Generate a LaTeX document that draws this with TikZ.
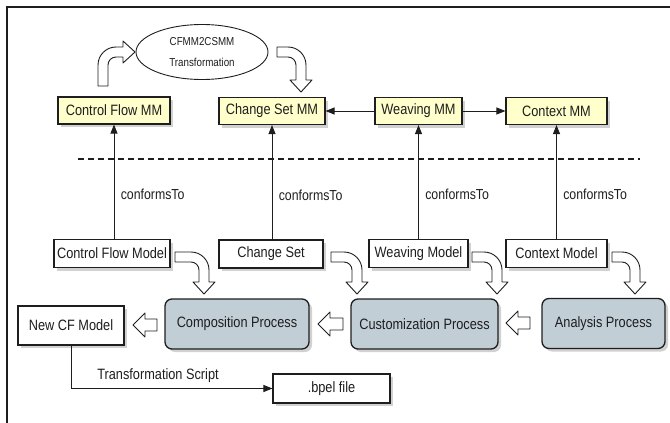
\documentclass[tikz,border=0pt]{standalone}
\usepackage{fontspec}
\setmainfont[FakeStretch=0.85]{Liberation Sans}
\usetikzlibrary{arrows.meta,shapes.geometric,shadows,calc}
\definecolor{mmyellow}{RGB}{255,255,204}
\definecolor{procfill}{RGB}{194,206,214}
\definecolor{ink}{RGB}{30,30,30}

% hollow bent arrow: right, then down (band 10pt, outer radius 18pt, inner radius 8pt)
% #1 start x, #2 top edge y, #3 centre x of the down leg, #4 tip y
\newcommand\rdarrow[4]{%
  \draw[blk] (#1,-#2) -- ({#3+5-18},-#2) arc[start angle=90,end angle=0,radius=18]
    -- ({#3+5},{-(#4-12)}) -- ({#3+11},{-(#4-12)}) -- (#3,-#4)
    -- ({#3-11},{-(#4-12)}) -- ({#3-5},{-(#4-12)}) -- ({#3-5},{-(#2+18)})
    arc[start angle=0,end angle=90,radius=8] -- ({#3+5-18},{-(#2+10)}) -- (#1,{-(#2+10)}) -- cycle;}
% hollow bent arrow: up, then right
% #1 left edge x, #2 bottom y, #3 centre y of the right leg, #4 tip x
\newcommand\urarrow[4]{%
  \draw[blk] (#1,-#2) -- (#1,{-(#3-5+18)}) arc[start angle=180,end angle=90,radius=18]
    -- ({#4-12},{-(#3-5)}) -- ({#4-12},{-(#3-11)}) -- (#4,-#3)
    -- ({#4-12},{-(#3+11)}) -- ({#4-12},{-(#3+5)}) -- ({#1+18},{-(#3+5)})
    arc[start angle=90,end angle=180,radius=8] -- ({#1+10},-#2) -- cycle;}
% hollow straight arrow pointing left: #1 tip x, #2 tail x, #3 y
\newcommand\larrow[3]{%
  \draw[blk] (#1,-#3) -- ({#1+12},{-(#3-12)}) -- ({#1+12},{-(#3-6)}) -- (#2,{-(#3-6)})
    -- (#2,{-(#3+6)}) -- ({#1+12},{-(#3+6)}) -- ({#1+12},{-(#3+12)}) -- cycle;}

\begin{document}
\begin{tikzpicture}[x=1pt,y=1pt,
  shadowed/.style={drop shadow={shadow xshift=3pt,shadow yshift=-3pt,fill=black!40,opacity=.45}},
  mmbox/.style={draw=ink,line width=1.1pt,fill=mmyellow,minimum height=27pt,inner sep=0pt,
    font=\fontsize{15}{17}\selectfont,text=ink,shadowed},
  modelbox/.style={draw=ink,line width=1.1pt,fill=white,minimum height=28pt,inner sep=0pt,
    font=\fontsize{15}{17}\selectfont,text=ink,shadowed},
  proc/.style={draw=ink,line width=1.3pt,fill=procfill,rounded corners=7pt,minimum height=50pt,
    inner sep=0pt,font=\fontsize{15}{17}\selectfont,text=ink,shadowed},
  conn/.style={draw=ink,line width=0.9pt,-{Triangle[length=9pt,width=7pt]}},
  conflabel/.style={anchor=west,xshift=3pt,font=\fontsize{14.5}{16}\selectfont,text=ink},
  blk/.style={draw=ink,fill=white,line width=0.9pt,line join=round},
  sep/.style={draw=ink,line width=1.1pt,dash pattern=on 6pt off 4pt}]
\useasboundingbox (0,0) rectangle (670,-423);

% outer frame
\draw[ink,line width=1.3pt] (7,-423) -- (7,-7) -- (670,-7);

% metamodel level
\node[ellipse,draw=ink,line width=0.9pt,fill=white,minimum width=132pt,minimum height=55pt,
  align=center,inner sep=0pt,font=\fontsize{11.5}{21}\selectfont,text=ink]
  (trafo) at (202,-52) {CFMM2CSMM\\Transformation};
\node[mmbox,minimum width=112pt] (cfmm)  at (114,-110.5) {Control Flow MM};
\node[mmbox,minimum width=106pt] (csmm)  at (272,-111) {Change Set MM};
\node[mmbox,minimum width=87pt]  (wmm)   at (418.5,-111) {Weaving MM};
\node[mmbox,minimum width=101pt] (ctxmm) at (556.5,-111) {Context MM};

\draw[conn] (wmm.west) -- (csmm.east);
\draw[conn] (wmm.east) -- (ctxmm.west);

\urarrow{98}{86}{52}{135}
\rdarrow{277}{47}{301}{92}

% level separator
\draw[sep] (78,-159) -- (640,-159);

% model level
\node[modelbox,minimum width=116pt] (cfm)  at (112,-253.5) {Control Flow Model};
\node[modelbox,minimum width=104pt] (cs)   at (271,-254) {Change Set};
\node[modelbox,minimum width=99pt]  (wm)   at (418.5,-253.5) {Weaving Model};
\node[modelbox,minimum width=101pt] (ctxm) at (556.5,-253.5) {Context Model};

\draw[conn] (cfm.north -| cfmm.south) -- (cfmm.south) node[conflabel,pos=0.39] {conformsTo};
\draw[conn] (cs.north -| csmm.south) -- (csmm.south) node[conflabel,pos=0.39] {conformsTo};
\draw[conn] (wm.north -| wmm.south) -- (wmm.south) node[conflabel,pos=0.39] {conformsTo};
\draw[conn] (ctxm.north -| ctxmm.south) -- (ctxmm.south) node[conflabel,pos=0.39] {conformsTo};

% processes
\node[modelbox,minimum width=106pt,minimum height=39pt] (ncf) at (71,-325.5) {New CF Model};
\node[proc,minimum width=144pt] (comp) at (237,-324) {Composition Process};
\node[proc,minimum width=147pt] (cust) at (424.5,-324) {Customization Process};
\node[proc,minimum width=123pt] (anal) at (603.5,-323.5) {Analysis Process};

\rdarrow{175}{252}{204}{294}
\rdarrow{331}{252}{357}{294}
\rdarrow{472}{252}{497}{294}
\rdarrow{612}{252}{635}{294}

\larrow{133}{157}{325}
\larrow{318}{343}{324}
\larrow{506}{530}{323}

% generated artefact
\node[modelbox,minimum width=117pt,minimum height=29pt] (bpel) at (331.5,-388.5) {.bpel file};
\draw[conn] (ncf.south) |- (bpel.west);
\node[font=\fontsize{15}{17}\selectfont,text=ink] (tslabel) at (158,-376) {Transformation Script};
\end{tikzpicture}
\end{document}
